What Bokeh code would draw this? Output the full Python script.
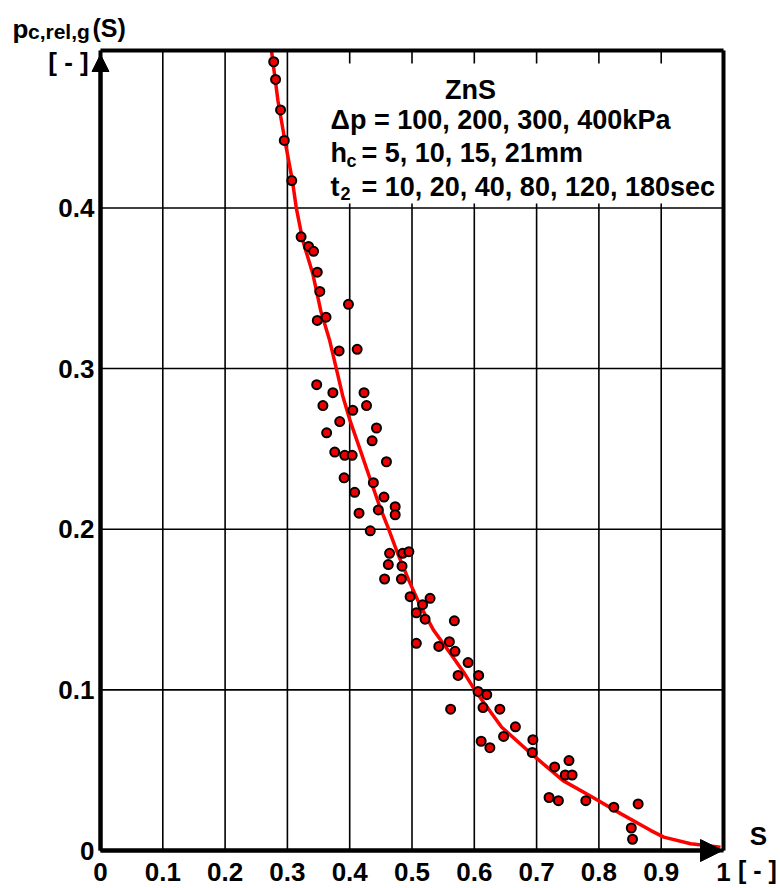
from bokeh.plotting import figure
from bokeh.models import (Range1d, FixedTicker, Label, Arrow, NormalHead, BoxAnnotation,
                          ColumnDataSource, LinearAxis)
from bokeh.embed import file_html
from bokeh.resources import INLINE

# ---------------- data ----------------
s_meas = [0.278, 0.281, 0.289, 0.295, 0.307, 0.322, 0.334, 0.342, 0.348, 0.352,
          0.398, 0.348, 0.362, 0.383, 0.412, 0.347, 0.373, 0.423, 0.357, 0.427,
          0.405, 0.384, 0.443, 0.363, 0.436, 0.376, 0.392, 0.404, 0.459, 0.391,
          0.438, 0.408, 0.455, 0.473, 0.446, 0.473, 0.415, 0.433, 0.464, 0.485,
          0.495, 0.462, 0.484, 0.456, 0.483, 0.497, 0.529, 0.517, 0.507, 0.521,
          0.568, 0.560, 0.569, 0.562, 0.590, 0.574, 0.607, 0.606, 0.620, 0.614,
          0.641, 0.611, 0.625, 0.666, 0.647, 0.694, 0.693, 0.729, 0.752, 0.746,
          0.757, 0.720, 0.735, 0.779, 0.824, 0.863, 0.852, 0.854, 0.507, 0.543]
p_meas = [0.491, 0.480, 0.461, 0.442, 0.417, 0.382, 0.376, 0.373, 0.360, 0.348,
          0.340, 0.330, 0.332, 0.311, 0.312, 0.290, 0.285, 0.285, 0.277, 0.277,
          0.274, 0.267, 0.263, 0.260, 0.255, 0.248, 0.246, 0.246, 0.242, 0.232,
          0.229, 0.223, 0.220, 0.214, 0.212, 0.209, 0.210, 0.199, 0.185, 0.185,
          0.186, 0.178, 0.177, 0.169, 0.169, 0.158, 0.157, 0.153, 0.148, 0.144,
          0.143, 0.130, 0.124, 0.088, 0.117, 0.109, 0.109, 0.099, 0.097, 0.089,
          0.088, 0.068, 0.064, 0.077, 0.071, 0.069, 0.061, 0.052, 0.056, 0.047,
          0.047, 0.033, 0.031, 0.031, 0.027, 0.029, 0.014, 0.007, 0.129, 0.127]

s_fit = [0.2745, 0.2849, 0.2961, 0.3081, 0.3144, 0.3248, 0.3408, 0.3536, 0.368,
         0.3775, 0.3887, 0.401, 0.4174, 0.4338, 0.4477, 0.4621, 0.4765, 0.4951,
         0.5132, 0.535, 0.5642, 0.5834, 0.6014, 0.644, 0.6919, 0.7425, 0.7877,
         0.8356, 0.8835, 0.9042, 0.9473, 0.9952]
p_fit = [0.4977, 0.4666, 0.4417, 0.4168, 0.3997, 0.3795, 0.359, 0.3359, 0.3173,
         0.3017, 0.2831, 0.2671, 0.2488, 0.2302, 0.2146, 0.2005, 0.1854, 0.168,
         0.1524, 0.1369, 0.1213, 0.1107, 0.0995, 0.0767, 0.0601, 0.0435, 0.0336,
         0.0228, 0.0124, 0.0083, 0.0042, 0.0021]

x_ticks = [0, 0.1, 0.2, 0.3, 0.4, 0.5, 0.6, 0.7, 0.8, 0.9, 1.0]
x_tick_labels = ["0", "0.1", "0.2", "0.3", "0.4", "0.5", "0.6", "0.7", "0.8", "0.9", "1"]
y_ticks = [0, 0.1, 0.2, 0.3, 0.4]
y_tick_labels = ["0", "0.1", "0.2", "0.3", "0.4"]

# ---------------- geometry of the plot box inside the page ----------------
W, H = 780, 888
FL, FR, FT, FB = 100, 723, 50, 850      # pixel edges of the plot box
X0, X1 = 0.0, 1.0
Y0, Y1 = 0.0, 0.498
FONT = "Liberation Sans"


def px2x(px):
    return X0 + (px - FL) / (FR - FL) * (X1 - X0)


def py2y(py):
    return Y0 + (FB - py) / (FB - FT) * (Y1 - Y0)


p = figure(width=W, height=H,
           x_range=Range1d(px2x(0), px2x(W)), y_range=Range1d(py2y(H), py2y(0)),
           output_backend="svg", toolbar_location=None,
           x_axis_location=None, y_axis_location=None,
           min_border=0, min_border_left=0, min_border_right=0,
           min_border_top=0, min_border_bottom=0)
p.background_fill_color = "white"
p.border_fill_color = "white"
p.outline_line_color = None
for g in list(p.xgrid) + list(p.ygrid):
    g.visible = False

# grid lines limited to the plot box
p.segment(x0=x_ticks, y0=[Y0] * len(x_ticks), x1=x_ticks, y1=[Y1] * len(x_ticks),
          line_color="black", line_width=1.6, level="underlay")
p.segment(x0=[X0] * len(y_ticks), y0=y_ticks, x1=[X1] * len(y_ticks), y1=y_ticks,
          line_color="black", line_width=1.6, level="underlay")


def make_axis(loc, bounds, ticks=None, labels=None, standoff=8, show_labels=True):
    ax = LinearAxis(fixed_location=loc, bounds=bounds,
                    axis_line_width=4, axis_line_color="black",
                    major_tick_in=0, major_tick_out=0, minor_tick_line_color=None,
                    major_label_text_font=FONT, major_label_text_font_style="bold",
                    major_label_text_font_size="26px", major_label_text_color="black",
                    major_label_standoff=standoff)
    if ticks is not None:
        ax.ticker = FixedTicker(ticks=ticks)
        ax.major_label_overrides = {t: l for t, l in zip(ticks, labels)}
    else:
        ax.ticker = FixedTicker(ticks=[])
    if not show_labels:
        ax.major_label_text_color = None
    return ax


p.add_layout(make_axis(Y0, (X0, X1), x_ticks, x_tick_labels, standoff=12), "below")
p.add_layout(make_axis(X0, (Y0, Y1), y_ticks, y_tick_labels, standoff=6), "left")
p.add_layout(make_axis(Y1, (X0, X1), show_labels=False), "above")
p.add_layout(make_axis(X1, (Y0, Y1), show_labels=False), "right")

# white area behind the parameter text
p.add_layout(BoxAnnotation(left=px2x(322), right=px2x(719), top=py2y(63), bottom=py2y(203),
                           fill_color="white", fill_alpha=1.0, line_alpha=0))

# fit curve and measured points
p.line(s_fit, p_fit, line_color="#ff0000", line_width=3.5)
src = ColumnDataSource(dict(s=s_meas, p=p_meas))
p.scatter("s", "p", source=src, size=9, fill_color="#ee0000", line_color="black", line_width=2)

# axis arrows
p.add_layout(Arrow(end=NormalHead(size=17, fill_color="black", line_color="black", line_width=1),
                   x_start=X0, y_start=Y0, x_end=X0, y_end=py2y(54),
                   line_color="black", line_width=4))
p.add_layout(Arrow(end=NormalHead(size=22, fill_color="black", line_color="black", line_width=1),
                   x_start=X0, y_start=Y0, x_end=px2x(722), y_end=Y0,
                   line_color="black", line_width=4))


def lab(text, px, py, size="27px", align="left", baseline="alphabetic"):
    p.add_layout(Label(x=px2x(px), y=py2y(py), text=text, text_font=FONT,
                       text_font_style="bold", text_font_size=size, text_color="black",
                       text_align=align, text_baseline=baseline))


# y axis title
lab("p", 12, 28, size="26px")
lab("c,rel,g", 27.5, 31, size="21px")
lab("(S)", 92, 27, size="25px")
lab("[ - ]", 68, 61, size="26px", align="center", baseline="middle")

# x axis title
lab("S", 758, 835, size="26px", align="center", baseline="middle")
lab("[ - ]", 757, 883, size="25px", align="center", baseline="bottom")

# parameter block
lab("ZnS", 470, 89, align="center")
lab("\u0394p = 100, 200, 300, 400kPa", 330, 119)
lab("h", 330, 152)
lab("c", 346, 160, size="18px")
lab("= 5, 10, 15, 21mm", 361, 152)
lab("t", 330, 186)
lab("2", 340, 193, size="18px")
lab("= 10, 20, 40, 80, 120, 180sec", 361, 186)

open("out.html", "w").write(file_html(p, INLINE))
